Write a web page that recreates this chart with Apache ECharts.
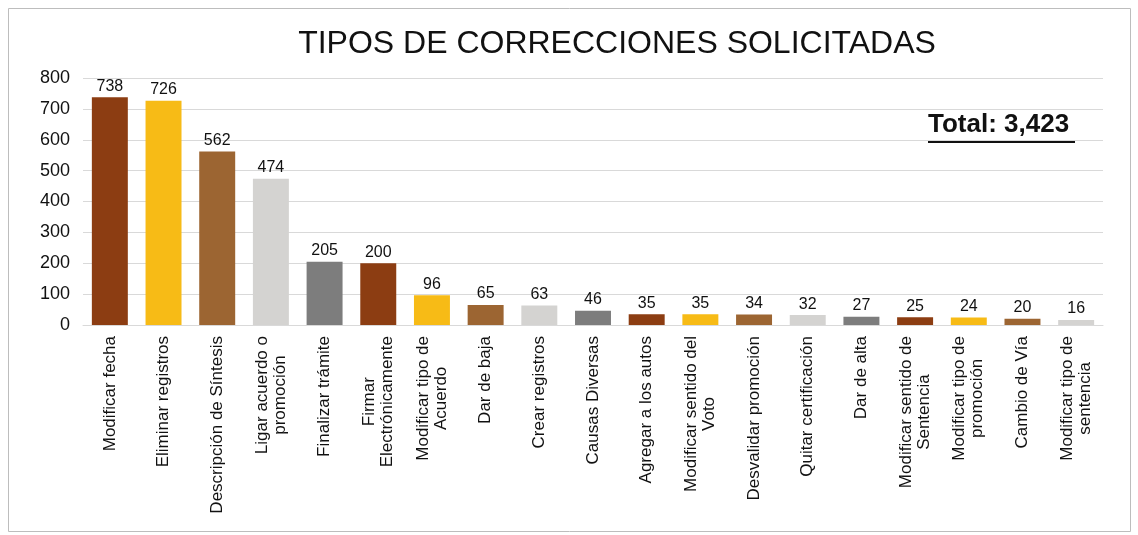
<!DOCTYPE html>
<html>
<head>
<meta charset="utf-8">
<script src="https://cdn.jsdelivr.net/npm/echarts@6/dist/echarts.min.js"></script>
<style>
  html, body { margin: 0; padding: 0; background: #fff; }
  #container { width: 1138px; height: 535px; }
</style>
</head>
<body>
<div id="container"></div>
<script>
// datos de la gráfica
var categorias = [
  'Modificar fecha', 'Eliminar registros', 'Descripción de Síntesis', 'Ligar acuerdo o\npromoción',
  'Finalizar trámite', 'Firmar\nElectrónicamente', 'Modificar tipo de\nAcuerdo', 'Dar de baja',
  'Crear registros', 'Causas Diversas', 'Agregar a los autos', 'Modificar sentido del\nVoto',
  'Desvalidar promoción', 'Quitar certificación', 'Dar de alta', 'Modificar sentido de\nSentencia',
  'Modificar tipo de\npromoción', 'Cambio de Vía', 'Modificar tipo de\nsentencia'
];
var valores = [738, 726, 562, 474, 205, 200, 96, 65, 63, 46, 35, 35, 34, 32, 27, 25, 24, 20, 16];
var colores = ['#8c3d12', '#f7bb16', '#9c6532', '#d4d3d1', '#7d7d7d'];
var totalTexto = 'Total: 3,423';

var dom = document.getElementById('container');
var myChart = echarts.init(dom);

var datos = [];
for (var i = 0; i < valores.length; i++) {
  datos.push({ value: valores[i], itemStyle: { color: colores[i % colores.length] } });
}

myChart.setOption({
  animation: false,
  textStyle: { fontFamily: 'Liberation Sans, Arial, sans-serif' },
  title: {
    text: 'TIPOS DE CORRECCIONES SOLICITADAS',
    left: 612,
    textAlign: 'center',
    top: 23,
    textStyle: { fontSize: 32, fontWeight: 'normal', color: '#111' }
  },
  graphic: [
    { type: 'rect', shape: { x: 8.5, y: 8.5, width: 1122, height: 523 },
      style: { fill: 'none', stroke: '#bdbdbd', lineWidth: 1 }, silent: true },
    { type: 'text', left: 928, top: 112,
      style: { text: totalTexto, fontSize: 26, fontWeight: 'bold', fill: '#111',
               fontFamily: 'Liberation Sans, Arial, sans-serif' } },
    { type: 'line', shape: { x1: 928, y1: 142, x2: 1075, y2: 142 },
      style: { stroke: '#111', lineWidth: 2 } }
  ],
  grid: { left: 83, right: 35, top: 78, bottom: 210, containLabel: false },
  xAxis: {
    type: 'category',
    data: categorias,
    axisTick: { show: false },
    axisLine: { show: true, lineStyle: { color: '#d9d9d9' } },
    axisLabel: {
      interval: 0,
      rotate: 90,
      margin: 11,
      color: '#111',
      fontSize: 17,
      lineHeight: 18,
      formatter: function (v) {
        return v.split('\n').map(function (s) { return '{a|' + s + '}'; }).join('\n');
      },
      rich: { a: { fontSize: 17, lineHeight: 18, color: '#111', align: 'center' } }
    }
  },
  yAxis: {
    type: 'value',
    min: 0,
    max: 800,
    interval: 100,
    axisLine: { show: false },
    axisTick: { show: false },
    axisLabel: { fontSize: 18, color: '#111', margin: 13 },
    splitLine: { lineStyle: { color: '#d9d9d9' } }
  },
  series: [{
    type: 'bar',
    data: datos,
    barCategoryGap: '33%',
    label: { show: true, position: 'top', distance: 3, fontSize: 16, color: '#111' }
  }]
});
</script>
</body>
</html>
